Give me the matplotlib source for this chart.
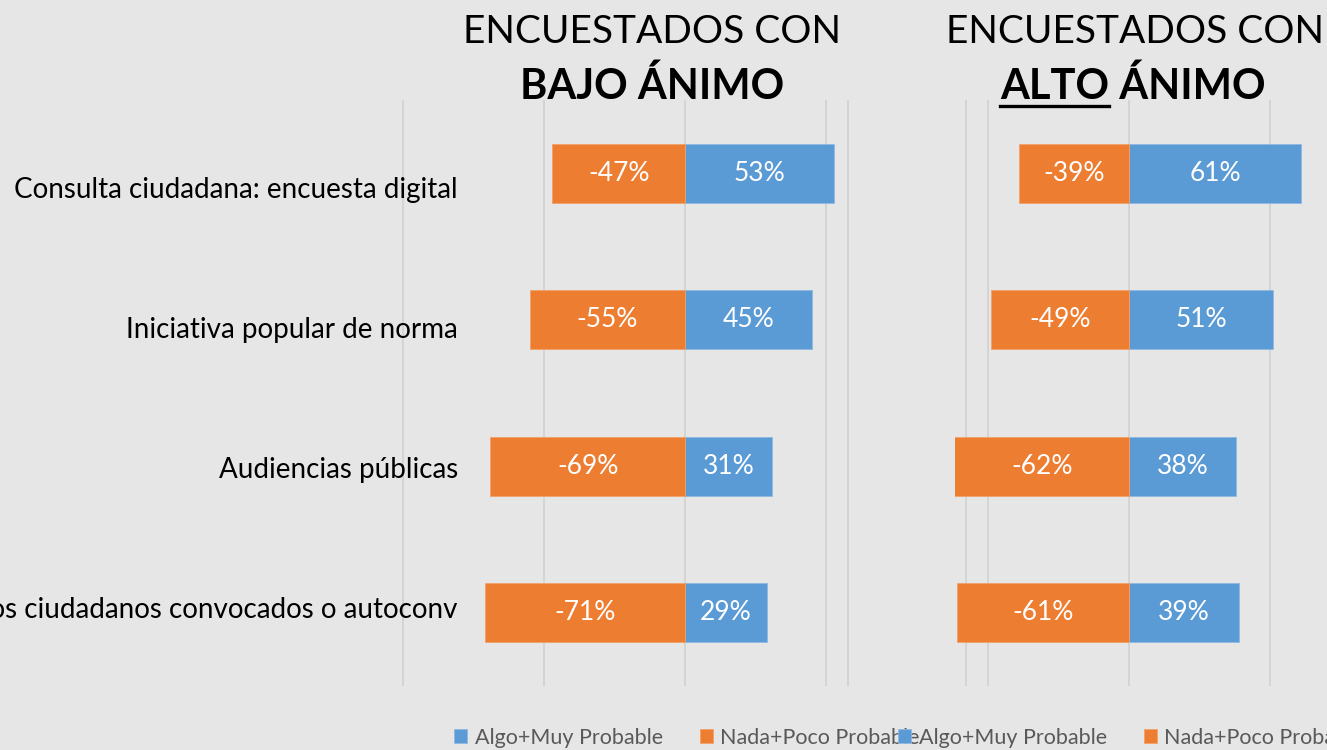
import numpy as np
import matplotlib
matplotlib.use('Agg')
import matplotlib.pyplot as plt
from matplotlib.lines import Line2D

plt.rcParams['font.family'] = ['Lato', 'DejaVu Sans']

categories = ["Consulta ciudadana: encuesta digital",
              "Iniciativa popular de norma",
              "Audiencias públicas",
              "Foros ciudadanos convocados o autoconv"]
bajo_algo = [53, 45, 31, 29]
bajo_nada = [-47, -55, -69, -71]
alto_algo = [61, 51, 38, 39]
alto_nada = [-39, -49, -62, -61]
series_names = ["Algo+Muy Probable", "Nada+Poco Probable"]

BG = '#e7e6e6'
GRID = '#d4d4d4'
BLUE = '#5b9bd5'
ORANGE = '#ed7d31'

W, H = 1327, 750
fig = plt.figure(figsize=(W / 100, H / 100), dpi=100)
fig.patch.set_facecolor(BG)


def px(x0, y0, x1, y1):
    return [x0 / W, 1 - y1 / H, (x1 - x0) / W, (y1 - y0) / H]


SCALE = 141 / 50  # pixels per percent


def panel(x0, x1, zero, edge):
    ax = fig.add_axes(px(x0, 100, x1, 686))
    ax.set_facecolor('none')
    lo, hi = (x0 - zero) / SCALE, (x1 - zero) / SCALE
    ax.set_xticks([v for v in (-100, -50, 0, 50, 100) if lo <= v <= hi])
    ax.set_xlim(lo, hi)
    ax.set_ylim(len(categories) - 0.5, -0.5)
    ax.grid(axis='x', color=GRID, lw=1.4)
    ax.axvline(edge, color=GRID, lw=1.4, zorder=0.5)
    ax.set_axisbelow(True)
    ax.tick_params(length=0, labelbottom=False, labelleft=False)
    for s in ax.spines.values():
        s.set_visible(False)
    return ax


def draw_bars(ax, algo, nada):
    y = np.arange(len(categories))
    b1 = ax.barh(y, algo, height=0.4, color=BLUE, edgecolor='#8fb8e2', lw=0.6,
                 label=series_names[0])
    b2 = ax.barh(y, nada, height=0.4, color=ORANGE, edgecolor='#f2a06a', lw=0.6,
                 label=series_names[1])
    ax.bar_label(b1, labels=[f'{v}%' for v in algo], label_type='center',
                 color='white', fontsize=19)
    ax.bar_label(b2, labels=[f'{v}%' for v in nada], label_type='center',
                 color='white', fontsize=19)
    return b1, b2


axL = panel(395, 860, 685, 57.8)
hL = draw_bars(axL, bajo_algo, bajo_nada)
axR = panel(955, 1420, 1129, -57.8)
hR = draw_bars(axR, alto_algo, alto_nada)

# category labels
lab = fig.add_axes(px(0, 120, 458, 680))
lab.axis('off')
lab.set_ylim(len(categories) - 0.5, -0.5)
lab.set_xlim(0, 1)
for i, c in enumerate(categories):
    lab.text(1, i, c, ha='right', va='center', fontsize=20, color='black')

# titles
fig.text(652 / W, 1 - 43 / H, "ENCUESTADOS CON", ha='center', va='baseline',
         fontsize=28)
fig.text(652 / W, 1 - 99 / H, "BAJO ÁNIMO", ha='center', va='baseline',
         fontsize=30, fontweight='bold')
fig.text(1135 / W, 1 - 43 / H, "ENCUESTADOS CON", ha='center', va='baseline',
         fontsize=28)
t = fig.text(1133 / W, 1 - 99 / H, "ALTO ÁNIMO", ha='center', va='baseline',
             fontsize=30, fontweight='bold')

# underline "ALTO"
fig.canvas.draw()
r = fig.canvas.get_renderer()
bb = t.get_window_extent(r)
tmp = fig.text(0, 0, "ALTO", fontsize=30, fontweight='bold')
w_alto = tmp.get_window_extent(r).width
tmp.remove()
x_start = bb.x0
fig.add_artist(Line2D([x_start / W, (x_start + w_alto) / W],
                      [1 - 106 / H, 1 - 106 / H], color='black', lw=2.4))

# legends
for anchor, hs in ((454, hL), (898, hR)):
    fig.legend(handles=list(hs), loc='center left',
               bbox_to_anchor=(anchor / W, 1 - 738 / H), ncol=2, frameon=False,
               fontsize=15.5, labelcolor='#595959', handlelength=0.62,
               handleheight=0.62, handletextpad=0.35, columnspacing=1.7,
               borderpad=0, borderaxespad=0)

fig.savefig('out.png', dpi=100, facecolor=BG)
